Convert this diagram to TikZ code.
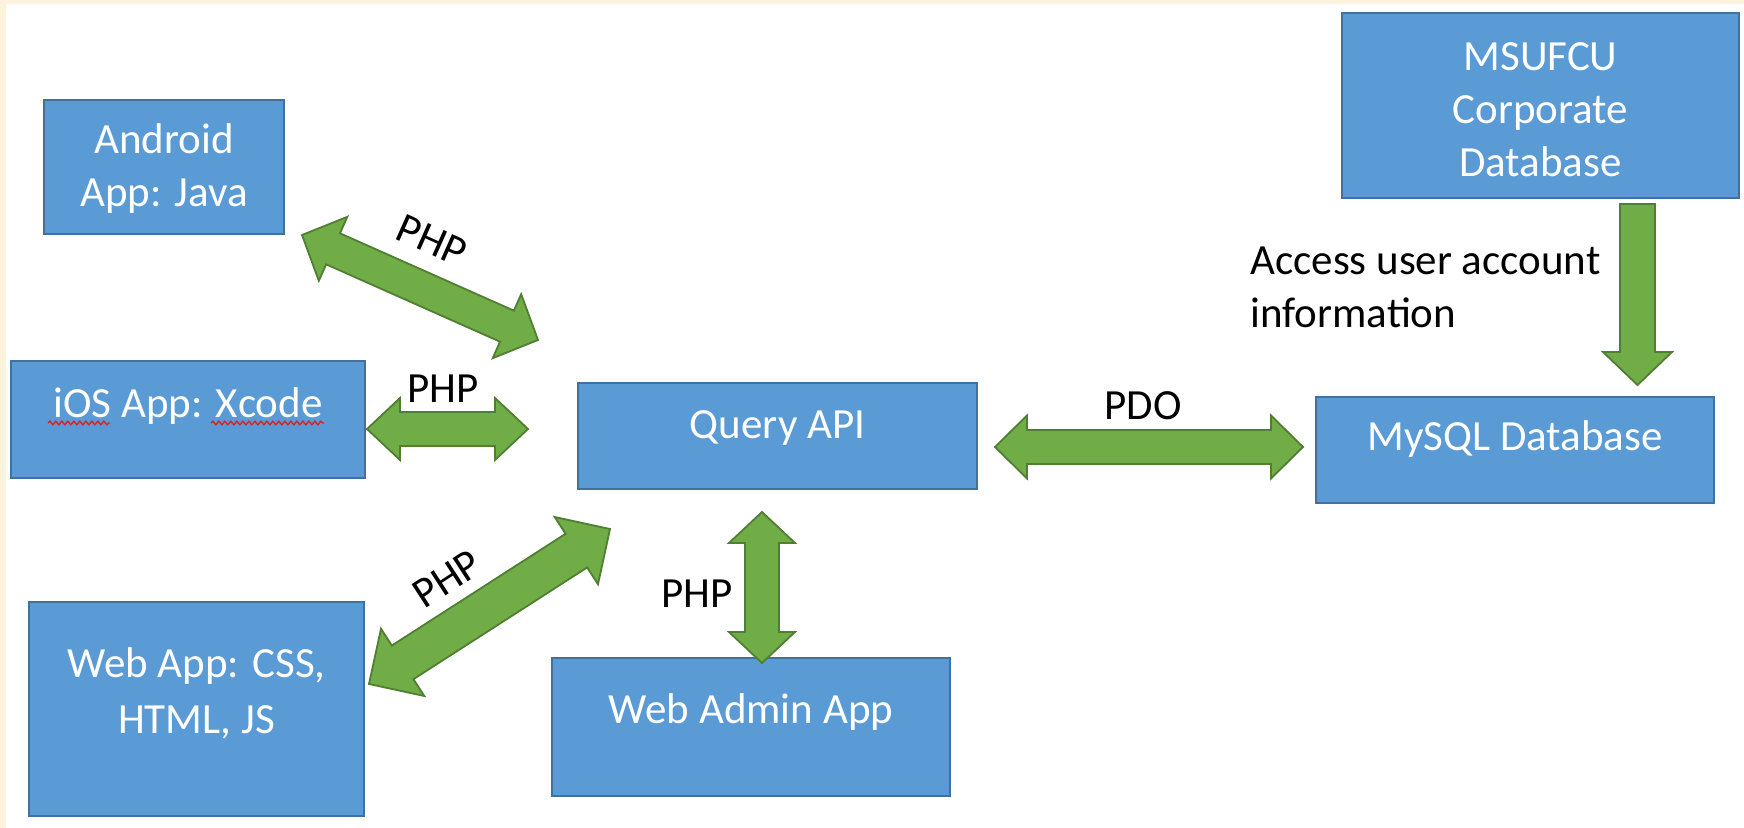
\documentclass[tikz,border=0pt]{standalone}
\usepackage{fontspec}
\setmainfont{Carlito}
\usetikzlibrary{calc,decorations.pathmorphing}
\definecolor{boxblue}{HTML}{5B9BD5}
\definecolor{boxedge}{HTML}{41719C}
\definecolor{arrgreen}{HTML}{70AD47}
\definecolor{arredge}{HTML}{507E32}
\definecolor{cream}{HTML}{FDF2DC}
\definecolor{squigred}{HTML}{E02020}
\newcommand\dfont{\fontsize{21.5}{26.5}\selectfont}
% double block arrow: #1 start, #2 end, #3 shaft half width, #4 head half width, #5 head length
\newcommand\dblarrow[5]{%
  \coordinate (ax) at ($(#1)!#5!(#2)$);
  \coordinate (bx) at ($(#2)!#5!(#1)$);
  \draw[arrowstyle] (#1) -- ($(ax)!#4!90:(#2)$) -- ($(ax)!#3!90:(#2)$)
    -- ($(bx)!#3!90:(#2)$) -- ($(bx)!#4!90:(#2)$) -- (#2)
    -- ($(bx)!#4!-90:(#2)$) -- ($(bx)!#3!-90:(#2)$)
    -- ($(ax)!#3!-90:(#2)$) -- ($(ax)!#4!-90:(#2)$) -- cycle;
}
% single block arrow: #1 flat start, #2 tip
\newcommand\sglarrow[5]{%
  \coordinate (bx) at ($(#2)!#5!(#1)$);
  \draw[arrowstyle] ($(#1)!#3!90:(#2)$) -- ($(bx)!#3!90:(#2)$) -- ($(bx)!#4!90:(#2)$)
    -- (#2) -- ($(bx)!#4!-90:(#2)$) -- ($(bx)!#3!-90:(#2)$) -- ($(#1)!#3!-90:(#2)$) -- cycle;
}
\tikzset{
  box/.style={draw=boxedge, fill=boxblue, line width=1.3pt, text=white,
    inner sep=0pt, outer sep=0pt, align=center, font=\dfont},
  lbl/.style={text=black, inner sep=0pt, font=\dfont},
  arrowstyle/.style={fill=arrgreen, draw=arredge, line width=0.9pt, line join=miter},
  squig/.style={draw=squigred, line width=0.7pt, decorate,
    decoration={snake, amplitude=0.9pt, segment length=3pt}},
}
\begin{document}
\begin{tikzpicture}[x=0.5pt, y=-0.5pt]
\useasboundingbox (0,0) rectangle (1744,828);
\fill[white] (0,0) rectangle (1744,828);
\fill[cream] (0,0) rectangle (1744,4);
\fill[cream] (0,0) rectangle (6,828);

% boxes
\node[box, minimum width=120pt, minimum height=67pt, text height=40pt, text depth=0pt]
  (android) at (164,167) {Android\\App: Java};
\node[box, minimum width=177pt, minimum height=58.5pt, text height=0pt, text depth=2.5pt]
  (ios) at (188,419.5) {iOS App: Xcode};
\node[box, minimum width=167.5pt, minimum height=107pt, text height=24pt, text depth=0pt]
  (webapp) at (196.5,709) {Web App: CSS,\\[1.5pt]HTML, JS};
\node[box, minimum width=199.5pt, minimum height=53pt, text height=2pt, text depth=0pt]
  (query) at (777.5,436) {Query API};
\node[box, minimum width=199pt, minimum height=69pt, text height=0pt, text depth=4pt]
  (webadmin) at (751,727) {Web Admin App};
\node[box, minimum width=199pt, minimum height=53pt, text height=0pt, text depth=0pt]
  (mysql) at (1515,450) {MySQL Database};
\node[box, minimum width=198.5pt, minimum height=92.5pt, text height=71.5pt, text depth=0pt]
  (msufcu) at (1540.5,105.5) {MSUFCU\\Corporate\\Database};

% spell-check squiggles
\draw[squig] (48,423) -- (110,423);
\draw[squig] (211,423) -- (324,423);

% arrow end points
\coordinate (a1s) at ($(android.south east)+(18,1)$);
\coordinate (a1e) at ($(query.north west)+(-40,-43)$);
\coordinate (a2s) at ($(ios.east)+(2,9.5)$);
\coordinate (a2e) at ($(query.west)+(-50,-7)$);
\coordinate (a3s) at ($(webapp.north east)+(5,82)$);
\coordinate (a3e) at ($(query.south west)+(32,40)$);
\coordinate (a4s) at ($(query.south)+(-15.5,23)$);
\coordinate (a4e) at ($(webadmin.north)+(11,5)$);
\coordinate (a5s) at ($(query.east)+(18,11)$);
\coordinate (a5e) at ($(mysql.west)+(-13,-3)$);
\coordinate (a6s) at ($(msufcu.south)+(97,6)$);
\coordinate (a6e) at ($(mysql.north)+(122.5,-12)$);

% arrows
\dblarrow{a1s}{a1e}{8.5pt}{17.5pt}{17pt}
\dblarrow{a2s}{a2e}{8.5pt}{15.5pt}{16.5pt}
\dblarrow{a3s}{a3e}{10pt}{20pt}{20pt}
\dblarrow{a4s}{a4e}{8.5pt}{16.5pt}{15.5pt}
\dblarrow{a5s}{a5e}{8.5pt}{15.75pt}{16pt}
\sglarrow{a6s}{a6e}{8.75pt}{17.25pt}{16.5pt}

% labels
\node[lbl, rotate=-24] (phpand) at (432,240) {PHP};
\node[lbl, anchor=base] (phpios) at (443,402) {PHP};
\node[lbl, rotate=33] (phpweb) at (447,579) {PHP};
\node[lbl, anchor=base] (phpadmin) at (697,607) {PHP};
\node[lbl, anchor=base] (pdo) at (1143,419) {PDO};
\node[lbl, anchor=base west, align=left] (access) at (1250,328) {Access user account\\information};
\end{tikzpicture}
\end{document}
